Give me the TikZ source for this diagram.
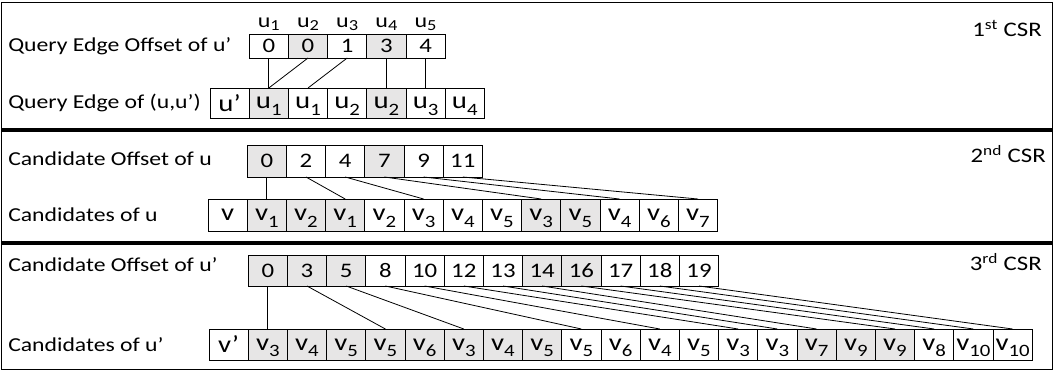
\documentclass[tikz,border=0pt]{standalone}
\usepackage{fontspec}
\setmainfont{Carlito}[FakeStretch=1.2]
\usepackage{tikz}
\usetikzlibrary{positioning, calc}
\definecolor{cellgray}{RGB}{231,230,230}
\newcommand{\lblfont}{\fontsize{14.8}{16}\selectfont}
\newcommand{\numfont}{\fontsize{15.5}{17}\selectfont}
\newcommand{\ltr}[1]{{\fontsize{18}{20}\selectfont #1}}
\newcommand{\ltrsub}[2]{\ltr{#1}\raisebox{-5pt}[0pt][0pt]{\fontsize{13}{13}\selectfont #2}}
\newcommand{\topsub}[2]{{\fontsize{15}{16}\selectfont #1}\raisebox{-2.5pt}[0pt][0pt]{\fontsize{11.5}{12}\selectfont #2}}
\tikzset{
  cell/.style={rectangle, draw=black, fill=white, minimum width=29.4pt,
    inner sep=0pt, outer sep=0pt, line width=0.7pt, font=\numfont},
  grayfill/.style={fill=cellgray},
  qoff/.style={cell, minimum height=18pt},
  qedge/.style={cell, minimum height=22.5pt},
  ucell/.style={cell, minimum height=24pt},
  pcell/.style={cell, minimum height=23.25pt},
  ulabel/.style={inner sep=0pt},
  rowlabel/.style={anchor=west, inner sep=0pt, font=\lblfont},
  csrlabel/.style={anchor=base east, inner sep=0pt, font=\numfont},
  panel/.style={draw=black, line width=1.2pt},
  link/.style={line width=0.6pt, color=black}
}

\begin{document}
\begin{tikzpicture}[x=0.75pt, y=-0.75pt]
  \useasboundingbox (0,0) rectangle (1057,372);

  % panels
  \draw[panel] (1.5,2.5) rectangle (1052.5,129);
  \draw[panel] (1.5,131) rectangle (1052.5,242);
  \draw[panel] (1.5,244) rectangle (1052.5,369.5);
  \node[csrlabel] (csr1) at (1042,36) {1\textsuperscript{st} CSR};
  \node[csrlabel] (csr2) at (1046,162) {2\textsuperscript{nd} CSR};
  \node[csrlabel] (csr3) at (1042,270) {3\textsuperscript{rd} CSR};

  % 1st CSR
  \node[rowlabel] (qofflbl) at (8,46) {Query Edge Offset of u’};
  \node[rowlabel] (qedgelbl) at (8,103) {Query Edge of (u,u’)};

  \node[qedge] (qedge0) at (229.6,103) {\ltr{u’}};
  \node[qedge, grayfill, right=0pt of qedge0] (qedge1) {\ltrsub{u}{1}};
  \node[qedge, right=0pt of qedge1] (qedge2) {\ltrsub{u}{1}};
  \node[qedge, right=0pt of qedge2] (qedge3) {\ltrsub{u}{2}};
  \node[qedge, grayfill, right=0pt of qedge3] (qedge4) {\ltrsub{u}{2}};
  \node[qedge, right=0pt of qedge4] (qedge5) {\ltrsub{u}{3}};
  \node[qedge, right=0pt of qedge5] (qedge6) {\ltrsub{u}{4}};

  \node[qoff, above=22.5pt of qedge1] (qoff0) {0};
  \node[qoff, grayfill, right=0pt of qoff0] (qoff1) {0};
  \node[qoff, right=0pt of qoff1] (qoff2) {1};
  \node[qoff, grayfill, right=0pt of qoff2] (qoff3) {3};
  \node[qoff, right=0pt of qoff3] (qoff4) {4};

  \node[ulabel, above=4.5pt of qoff0] (qu1) {\topsub{u}{1}};
  \node[ulabel, above=4.5pt of qoff1] (qu2) {\topsub{u}{2}};
  \node[ulabel, above=4.5pt of qoff2] (qu3) {\topsub{u}{3}};
  \node[ulabel, above=4.5pt of qoff3] (qu4) {\topsub{u}{4}};
  \node[ulabel, above=4.5pt of qoff4] (qu5) {\topsub{u}{5}};

  \draw[link] (qoff0.south) -- (qedge1.north);
  \draw[link] (qoff1.south) -- (qedge1.north);
  \draw[link] (qoff2.south) -- (qedge2.north);
  \draw[link] (qoff3.south) -- (qedge4.north);
  \draw[link] (qoff4.south) -- (qedge5.north);

  % 2nd CSR
  \node[rowlabel] (uofflbl) at (8,159) {Candidate Offset of u};
  \node[rowlabel] (ucandlbl) at (8,215) {Candidates of u};

  \node[ucell] (ucand0) at (227.6,215) {\ltr{v}};
  \node[ucell, grayfill, right=0pt of ucand0] (ucand1) {\ltrsub{v}{1}};
  \node[ucell, grayfill, right=0pt of ucand1] (ucand2) {\ltrsub{v}{2}};
  \node[ucell, grayfill, right=0pt of ucand2] (ucand3) {\ltrsub{v}{1}};
  \node[ucell, right=0pt of ucand3] (ucand4) {\ltrsub{v}{2}};
  \node[ucell, right=0pt of ucand4] (ucand5) {\ltrsub{v}{3}};
  \node[ucell, right=0pt of ucand5] (ucand6) {\ltrsub{v}{4}};
  \node[ucell, right=0pt of ucand6] (ucand7) {\ltrsub{v}{5}};
  \node[ucell, grayfill, right=0pt of ucand7] (ucand8) {\ltrsub{v}{3}};
  \node[ucell, grayfill, right=0pt of ucand8] (ucand9) {\ltrsub{v}{5}};
  \node[ucell, right=0pt of ucand9] (ucand10) {\ltrsub{v}{4}};
  \node[ucell, right=0pt of ucand10] (ucand11) {\ltrsub{v}{6}};
  \node[ucell, right=0pt of ucand11] (ucand12) {\ltrsub{v}{7}};

  \node[ucell, grayfill, above=16.5pt of ucand1] (uoff0) {0};
  \node[ucell, right=0pt of uoff0] (uoff1) {2};
  \node[ucell, right=0pt of uoff1] (uoff2) {4};
  \node[ucell, grayfill, right=0pt of uoff2] (uoff3) {7};
  \node[ucell, right=0pt of uoff3] (uoff4) {9};
  \node[ucell, right=0pt of uoff4] (uoff5) {11};

  \draw[link] (uoff0.south) -- (ucand1.north);
  \draw[link] (uoff1.south) -- (ucand3.north);
  \draw[link] (uoff2.south) -- (ucand5.north);
  \draw[link] (uoff3.south) -- (ucand8.north);
  \draw[link] (uoff4.south) -- (ucand10.north);
  \draw[link] (uoff5.south) -- (ucand12.north);

  % 3rd CSR
  \node[rowlabel] (pofflbl) at (8,265) {Candidate Offset of u’};
  \node[rowlabel] (pcandlbl) at (8,344.5) {Candidates of u’};

  \node[pcell] (pcand0) at (228.6,344.5) {\ltr{v’}};
  \node[pcell, grayfill, right=0pt of pcand0] (pcand1) {\ltrsub{v}{3}};
  \node[pcell, grayfill, right=0pt of pcand1] (pcand2) {\ltrsub{v}{4}};
  \node[pcell, grayfill, right=0pt of pcand2] (pcand3) {\ltrsub{v}{5}};
  \node[pcell, grayfill, right=0pt of pcand3] (pcand4) {\ltrsub{v}{5}};
  \node[pcell, grayfill, right=0pt of pcand4] (pcand5) {\ltrsub{v}{6}};
  \node[pcell, grayfill, right=0pt of pcand5] (pcand6) {\ltrsub{v}{3}};
  \node[pcell, grayfill, right=0pt of pcand6] (pcand7) {\ltrsub{v}{4}};
  \node[pcell, grayfill, right=0pt of pcand7] (pcand8) {\ltrsub{v}{5}};
  \node[pcell, right=0pt of pcand8] (pcand9) {\ltrsub{v}{5}};
  \node[pcell, right=0pt of pcand9] (pcand10) {\ltrsub{v}{6}};
  \node[pcell, right=0pt of pcand10] (pcand11) {\ltrsub{v}{4}};
  \node[pcell, right=0pt of pcand11] (pcand12) {\ltrsub{v}{5}};
  \node[pcell, right=0pt of pcand12] (pcand13) {\ltrsub{v}{3}};
  \node[pcell, right=0pt of pcand13] (pcand14) {\ltrsub{v}{3}};
  \node[pcell, grayfill, right=0pt of pcand14] (pcand15) {\ltrsub{v}{7}};
  \node[pcell, grayfill, right=0pt of pcand15] (pcand16) {\ltrsub{v}{9}};
  \node[pcell, grayfill, right=0pt of pcand16] (pcand17) {\ltrsub{v}{9}};
  \node[pcell, right=0pt of pcand17] (pcand18) {\ltrsub{v}{8}};
  \node[pcell, right=0pt of pcand18] (pcand19) {\ltrsub{v}{10}};
  \node[pcell, right=0pt of pcand19] (pcand20) {\ltrsub{v}{10}};

  \node[pcell, grayfill, above=32.25pt of pcand1] (poff0) {0};
  \node[pcell, grayfill, right=0pt of poff0] (poff1) {3};
  \node[pcell, grayfill, right=0pt of poff1] (poff2) {5};
  \node[pcell, right=0pt of poff2] (poff3) {8};
  \node[pcell, right=0pt of poff3] (poff4) {10};
  \node[pcell, right=0pt of poff4] (poff5) {12};
  \node[pcell, right=0pt of poff5] (poff6) {13};
  \node[pcell, grayfill, right=0pt of poff6] (poff7) {14};
  \node[pcell, grayfill, right=0pt of poff7] (poff8) {16};
  \node[pcell, right=0pt of poff8] (poff9) {17};
  \node[pcell, right=0pt of poff9] (poff10) {18};
  \node[pcell, right=0pt of poff10] (poff11) {19};

  \draw[link] (poff0.south) -- (pcand1.north);
  \draw[link] (poff1.south) -- (pcand4.north);
  \draw[link] (poff2.south) -- (pcand6.north);
  \draw[link] (poff3.south) -- (pcand9.north);
  \draw[link] (poff4.south) -- (pcand11.north);
  \draw[link] (poff5.south) -- (pcand13.north);
  \draw[link] (poff6.south) -- (pcand14.north);
  \draw[link] (poff7.south) -- (pcand15.north);
  \draw[link] (poff8.south) -- (pcand17.north);
  \draw[link] (poff9.south) -- (pcand18.north);
  \draw[link] (poff10.south) -- (pcand19.north);
  \draw[link] (poff11.south) -- (pcand20.north);
\end{tikzpicture}
\end{document}
